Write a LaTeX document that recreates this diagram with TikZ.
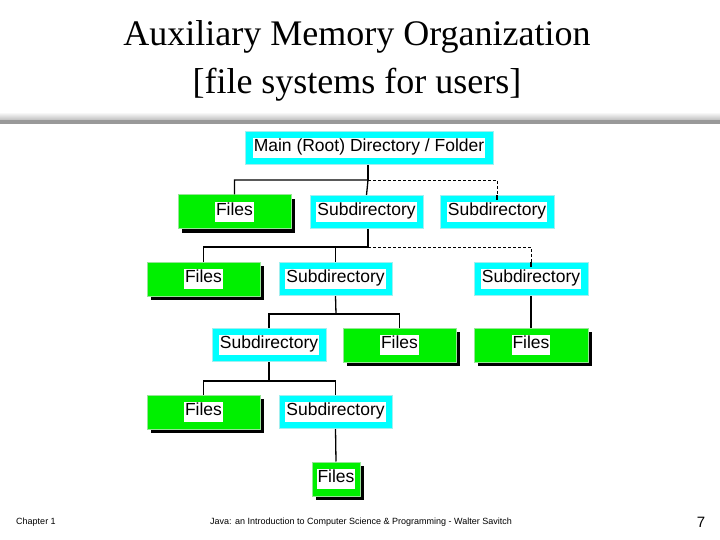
\documentclass[tikz,border=0pt]{standalone}
\usepackage{fontspec}
\setmainfont{Liberation Serif}
\setsansfont{Liberation Sans}
\usetikzlibrary{shadows}
\setlength{\fboxsep}{1pt}
\definecolor{cyn}{RGB}{0,255,255}
\definecolor{grn}{RGB}{0,240,0}
\definecolor{cynb}{RGB}{160,240,240}
\definecolor{grnb}{RGB}{150,230,150}
\begin{document}
\begin{tikzpicture}[x=1pt,y=-1pt,
  cy/.style={draw=cynb,line width=1pt,fill=cyn,minimum height=33pt,inner sep=0pt,font=\sffamily\fontsize{17.5}{17.5}\selectfont},
  gr/.style={draw=grnb,line width=1pt,fill=grn,minimum height=34pt,inner sep=0pt,font=\sffamily\fontsize{17.5}{17.5}\selectfont,
    drop shadow={shadow xshift=4pt,shadow yshift=-4pt,fill=black,opacity=1}},
  ln/.style={line width=1.3pt},
  dl/.style={line width=0.9pt,dash pattern=on 3pt off 2pt}]
\useasboundingbox (0,0) rectangle (720,540);
\fill[white] (0,0) rectangle (720,540);
% title
\node[font=\fontsize{36}{48}\selectfont,align=center] (title) at (357,61) {Auxiliary Memory Organization\\{}[file systems for users]};
\shade[top color=white,bottom color=gray!50] (0,112) rectangle (720,120);
\fill[gray!80] (0,120) rectangle (720,124);
\newcommand{\cbox}[6]{\node[#1,minimum width=#4-#3] (#2) at ({(#3+#4)/2},#5) {\colorbox{white}{\strut #6}};}
\cbox{cy}{root}{245}{493}{148}{Main (Root) Directory / Folder}
\cbox{gr}{fa}{178}{291}{212}{Files}
\cbox{cy}{sa}{310}{423}{212}{Subdirectory}
\cbox{cy}{sb}{440}{554}{212}{Subdirectory}
\cbox{gr}{fb}{147}{260}{279}{Files}
\cbox{cy}{sc}{279}{392}{279}{Subdirectory}
\cbox{cy}{sd}{474}{588}{279}{Subdirectory}
\cbox{cy}{se}{212}{326}{345}{Subdirectory}
\cbox{gr}{fc}{343}{456}{345}{Files}
\cbox{gr}{fd}{474}{588}{345}{Files}
\cbox{gr}{fe}{147}{260}{412}{Files}
\cbox{cy}{sf}{279}{392}{412}{Subdirectory}
\cbox{gr}{ff}{312}{360}{479}{Files}
% connectors
\coordinate (j1) at (368,180);
\draw[ln] (root.south -| j1) -- (j1);
\draw[ln] (fa.north) |- (j1) -- (sa.north);
\draw[dl] (j1) -| ([yshift=-5pt]sb.north);
\draw[ln] ([yshift=-5pt]sb.north) -- (sb.north);
\coordinate (j2) at (368,247);
\draw[ln] (sa.south -| j2) -- (j2);
\draw[ln] (fb.north) |- (j2);
\draw[ln] (sc.north) -- (sc.north |- j2);
\draw[dl] (j2) -| ([yshift=-5pt]sd.north);
\draw[ln] ([yshift=-5pt]sd.north) -- (sd.north);
\coordinate (j3) at (336,314);
\draw[ln] (sc.south) -- (j3);
\draw[ln] (se.north) |- (j3) -| (fc.north);
\draw[ln] (sd.south) -- (fd.north);
\coordinate (j4) at (269,381);
\draw[ln] (se.south) -- (j4);
\draw[ln] (fe.north) |- (j4) -| (sf.north);
\draw[ln] (sf.south) -- (ff.north);
% footer
\node[font=\sffamily\fontsize{9}{9}\selectfont] (ch) at (36,522) {Chapter 1};
\node[font=\sffamily\fontsize{9}{9}\selectfont] (ft) at (361,522) {Java: an Introduction to Computer Science \& Programming - Walter Savitch};
\node[font=\sffamily\fontsize{15}{15}\selectfont] (pg) at (701,522) {7};
\end{tikzpicture}
\end{document}
